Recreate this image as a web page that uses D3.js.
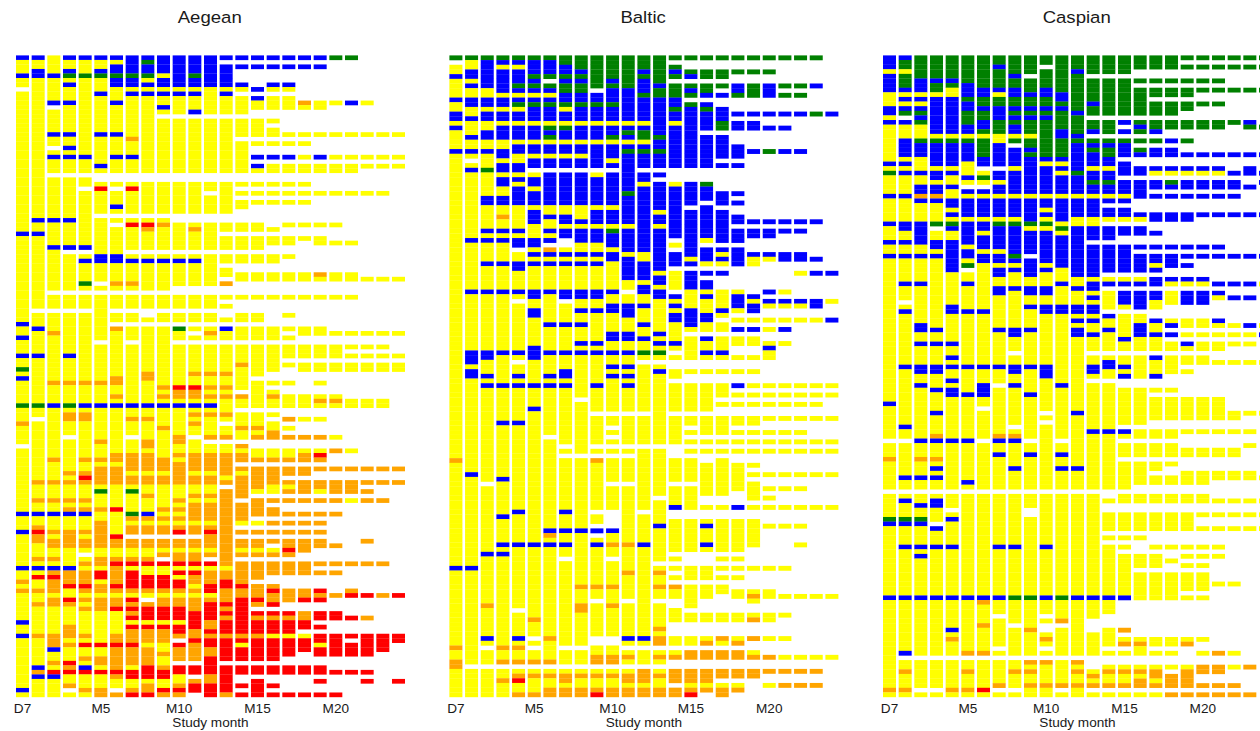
<!DOCTYPE html>
<html>
<head>
<meta charset="utf-8">
<script src="https://cdn.jsdelivr.net/npm/d3@7"></script>
<style>
  html, body { margin: 0; padding: 0; background: #fff; }
  svg { display: block; }
  text { font-family: "Liberation Sans", Arial, sans-serif; fill: #1a1a1a; }
</style>
</head>
<body>
<svg id="chart" width="1260" height="731"></svg>
<script>
const studyMonths = ["D7","M1","M2","M3","M4","M5","M6","M7","M8","M9","M10","M11","M12","M13","M14","M15","M16","M17","M18","M19","M20","M21","M22","M23","M24"];
const tickLabels = ["D7","M5","M10","M15","M20"];
const stateCodes = ["y","o","r","b","g"];
const stateColors = ["#ffff00","#ffa500","#ff0000","#0000ff","#008000"];

// one string per study month: code + subject row (or row range), painted in order, _ = no visit
const aegeanColumns = [
  "y0-141 b0 b4 _7 b39 b59 b62 b66 g69 b71 g77 o81 _86 b101 b105 b113 o116 o118 b125 b128 b140",
  "y0-141 b0 b3-4 b36 b39 _56 b60 b66 g77 _80 o94 o98 b101 o104 r105 o106-107 o111 b113 r115 o118 o121 o128 b135 o136 b137",
  "y0-141 b4 b10 _11 b17 _20 b22 _26 b36 b42 _52 _56 o61 o72 b77 o89 o94 o98 b101 o105 o107-108 o111 b113 o114 r115 o116-118 o120-121 o128-130 b131 o134 r136 b137",
  "y0-141 b0 b3 g4 b6 b10 b17 b20 b22 _26 b36 b42 _43 _52 _56 b66 o72 g77 o79-80 _84 o92 o94 o98 o100 b101 o105-108 b113 o114-116 r117 r120 o121 o126-128 o130 r134 o135 r136 o139 _140",
  "y0-141 b0 g4 b22 _26 _29 b42 _43 b45 g50 _52 _56 o72 b77 o79-80 o89 o92 r93 o94 o98 o100 b101 o105 o107-108 _110 o112 o114-116 r117 o118 o120 o122 o128 r130 o133 b135 r136 o140",
  "y0-141 b0 b3 g4 b8 b17 b24 _26-27 r29 _35 b44-45 _50 _52 _63 o72 b77 o85 o89 o91-94 g96 o100 o103-108 o111-112 r114-115 o117-118 o120-122 r130 o133-134 r136 o140-141",
  "y0-141 b0 b2-3 g4 b5-6 b10 b17 b22 _26-27 _29 b33 _35 _37 b44-45 o50 _52 _56 _59 o60 o71-72 o75 b77 o88-89 o91-94 r100 r106 o107-108 o111 r112 o113-116 r117 o118 o120-121 r122 o128-129 r130 o131-135 r136 o137 _140 o141",
  "y0-141 b0-3 g4 b5-6 b8 o18 b22 _26-27 r29 _35 r37 _43 b45 o50 _52 _56 _59 _63 b77 o80 _84 o88-91 o93-94 g96 g101 o102 o104-105 _106 o107-108 o111 r112 r114-117 o118 r120 o121 r122 o123 r124 r126 o127-129 r130 o131-134 r136-137 o140 r141",
  "y0-141 b0 g1 b2-3 g4 b6 b8 _26-27 _35 r37 o38 _43 b45 _52 _56-57 _59 o70-71 b77 o80 o85-86 o88-91 o93-94 o97 b101 o102 o104-105 _106 o107-108 o111 r112 r115-117 o118 _120 o121 r122-124 r126 o127-129 o131-134 r135-137 o139-140 r141",
  "y0-141 b0-3 b5-6 b8 b11 _13 _26-27 _35 o37 _43 b45 _52 _56 _59 o73 o75 b77 o82 o89-91 o93-94 o100 o102 o104-105 _106 o107-108 o110 _111 r112 r115-117 o118 o120-121 r122-124 r126 o127-129 o132 o135 r136-137 r140 o141",
  "y0-141 b0-6 b8 _13 _26-27 _35-36 _43 b45 _51-52 _56 _59 g60 _63 r73 o74-75 b77 o84-85 o88 o90-94 o98 o100 o102 o104 r105 _106 o107-108 o110-111 r112 r114 r116-117 o118 o120-121 r122-124 r126-127 o128 _129 r130 o131-133 _134 r135-136 o139 r140 o141",
  "y0-141 b0-3 g4 b5-6 b8 b12 _13 _26-27 _35-36 o38 _43 b45 _51-52 _56 _59 _61 _63 o70 r73 o74-75 b77 o79 o81 _84 o88-91 o93-94 o97 o99-102 o104-105 _106 o107-108 o110-111 r112 r114 o115-116 o118 o120-122 r123-126 o127-128 r129 o130-133 _134 r135-136 _137 o138 r139-140 _141",
  "y0-141 b0-6 _13 _26-27 _30 _35-36 _43 _51-52 _56 _59 o61 _63 o70 o73 o75 b77 o79 o84 _85 o88-91 o93-94 o97 o99-102 o104 r105 o106-108 o110 _111 r112 o114-116 r117-118 o120 r121-124 o125-126 r127 o128 r129-130 o131-132 r133-136 o137-138 r139-141",
  "y0-141 b0 _1 b2-6 b8 _13 _26-27 _35-36 _39 _43 _46 _49 o50 _51-52 _54 _56-57 _59 b60 _63 o70 o73 o75 o79 _81 o84 _85 o88-92 o94 _95 o96-112 o114-115 r116-117 o118-120 r121 o122 r123 o124 r125-127 o128 r129-133 _134 r135-140 o141",
  "b0 b2 b6 y7 y9-12 y14-17 y19-25 y28 y30 y32-33 y37-38 y40-42 y44-45 y48-49 y53 y57-58 y60-62 y64-67 o68 y69-73 o75 y76-77 y79-81 o82 y83-84 o86 y87 o88-89 o91 y92 o93-97 o99-102 y103 o105 o107-108 y109 o110 o112-116 r117 o118-119 r120-127 o128 r129 y130 r131-133 r135-136 r139 r141",
  "b0 b2 b7 b9 y10-11 y14-17 y19 b22 b24 y25 y28 y30 y32 y37-38 y40-42 y44-45 y48-49 y53 y57-58 y60-62 y64-70 y72-77 y79-81 o82 y83 o84 y87-88 o89 o91-95 y96 o98-101 y103 o105 o107-108 y109 o110 o112-115 o117-119 r120 o121 r123 o124 r125-127 o128 r129-133 r135-136 r138-141",
  "b0 b2 b6 y7 y9-11 y14 y16-17 y19 b22 y24-25 y28 y30 y32 y38 y40-41 y44-45 y48-49 y53 y60-62 y64-69 y72 y74 o75 y76-77 y79 y81-82 o83-84 y87-88 o89 o91-94 y95-96 o98 o100-101 o103 o105 o107 y109 o110 o112-114 o117 r118 o119-120 r121 r123 o124 r125-127 y128 r129-133 r135-136 r139 r141",
  "b0 b2 b6 y7 y9-11 y17 y19 b22 y24-25 y28 y30 y32 y37 y40-41 y44 y48-49 y53 y57 y60 y62 y64-66 y68 y72 y75-77 o80 y82 o84 y87-88 o89 o91-92 o94 y95 o96 o98 o101 o103 o105 o107-108 r109 o110 o112-114 o118-120 r123 o124 r125-127 y128 r129-132 r135-136 r141",
  "b0 b2 o10 y11 y17 y19 y22 y24-25 y28 y30 y32 y37 y40 y48-49 y53 y60-61 y64-66 y68-69 y75-77 y80 o84 y87 o88-89 o91-92 o94-96 o98 o101 o103 o105 o107-109 o112-114 o118-119 r120 o123-124 r125-126 y128 r129-131 r135-136 r141",
  "b0 b2 y10-11 y17 b22 y24-25 y30 y37 y40-41 o48 y49 y53 y60-61 y64-66 y68-69 y72 y75 o76 y77 y80 o84 y87 r88 o89 o91 o94-95 y96 o98 o101 o103 o105 o107-108 o112 o114 r118 o119 r120 r123-124 r126 r128-129 y130 r131-132 r135-136 r138 r141",
  "g0 y10 y17 y22 y24-25 y30 y37 y41 y48-49 y53 y61 y64-66 y68-69 y75 o76 y77 y84 o87 o91 o94-96 o98 o101 o108 o112 o114 o119 r123-124 r128-132 r136 r141",
  "g0 b10 y17 y22 y24-25 y30 y41 y48-49 y53 y61 y64 y66 y68-69 y76-77 y87 o91 o94-96 y98 o112 o118 r119 r124 r128 r130-132 r136",
  "y10 y17 y22 y24 y30 y49 y61 y64 y66 y68-69 y76-77 o91 o94 o96 o98 o107 o112 r119 o124 r128-132 r136 r138",
  "y17 y22 y24 y30 y49 y61 y64 y66 y68-69 y76-77 o91 o94 o98 o112 o119 r128-131",
  "y17 y22 y24 y49 y61 y66 y68-69 o91 o94 r119 r128-129 r138"
];

const balticColumns = [
  "y0-136 g0 _1 b4 b9 b12-13 b15 b20 o86 b109 o126 o129-130",
  "y0-136 g0 b3-4 b6 b9-10 b13 b17 b20 _22 b24 b39 b50 b63-65 b67-68 b89 b109 _130",
  "y0-136 g0 b1-6 b9-10 b12-13 b16-17 b20 g24 b30-31 b37 b39 b44 b50 b63-64 b68 b70 _91 b106 o117 b124 _126 _130",
  "y0-136 g0 b1 b3-7 b9-10 b12-13 b15-17 b20-21 b23-24 b26-27 b30-31 o34 b37 b39 b44 b50 b63 b70 b78 b90 b98 b104 b106 o126 o129 _130 o133",
  "y0-136 g0 b1 b3-5 g6 b7 b9 g10 b12-13 b15-17 b19-20 b23-24 b26 b28-31 b37 b39-40 _41 b44-45 b50 _52 b63 _65 b68 b70 b78 b97 b104 _118 b124 o126 o129 _130 o132 r133 o136",
  "y0-136 g0 b1-3 g4 b5 g6 b7 b9 g10 b11-13 b15-17 b19-20 b22-23 _24 b26-27 b29-31 b33-35 b39-40 b42 b44 b50-51 b54-55 b62-64 b70 b75 b104 o120 _124 _126 o129 _130 o132 o136",
  "y0-136 g0 b1-3 g4 _5 g6 b7 b9 g10 b11-13 g15 b16 g17 b19-20 b22-23 _24 b25-31 b34 b37 b39 _40 o41 b42 b44 b50 b57 b63 b68 b70 _81 b101 o102 b104 o124 o129 _130 o132 o135-136",
  "y0-136 g0-1 b2-3 g4 b5 g6-7 b8-9 g10 b12-13 g15 b16-17 b19-20 b22-23 _24 b25-31 b34-35 b37-38 _39-40 b42 b44 b50-51 _52 b57 b63 b67-68 b70 _83 _85 b97 b101 b104 _107 _126 _130 o132-133 o135-136",
  "y0-136 g0-2 b3 g4 b5 g6-7 b8-9 g10 b11-13 b15-17 b19-20 b22-23 _24 b25-31 b35 b37-39 b42 b44 b50-51 b54 b57 b61 b63 _73 _85 b101 o113 o117-118 _126 _130 o132 o135-136",
  "y0-136 g0-6 _7 b8-9 g10 b11-13 b15-17 b19-23 _24 b26-31 b33-35 b37-39 b42 b44 b50-51 b54 b61 b63 b70 _76 _83 _85 o86 _97 _100 b101 _102 b104 o113 _116 _124-125 o128-129 _130 o132 o135 r136",
  "y0-136 g0-4 b5 g6 b7-9 g10 b11-13 b15-16 g17 b19-21 b23 _24 b25-31 b33-35 g37 b38-40 b42-43 b50 b53-54 b59-60 b63 b66 b68 _76 _79 _81 _83 _85 _91 _97-100 b101 o104 _107 o113 o117 _124-125 o128-129 _130 o132 o135-136",
  "y0-136 g0-6 b7-13 b15 g16 b17 b19 g20 b21-28 g29 b30-35 b37-41 b43-47 _50 b53-55 b59-60 b63 b66 b68 b70 _76 _83 _85 _91 o104 o110 _116 b124 _126 o128 _130 o132-133 o135-136",
  "y0-136 g0-2 b3 g4 b5-7 g8 b9-13 b15 g16-17 b19 g20 b21-23 _24 b25-26 b28-41 b44-47 b49-50 b53 b57 b60 g63 _65 _76 _83 _97 b104 b124 _126 _130 o131-133 o135-136",
  "y0-136 g0-5 b6 g7-8 b9-16 g17 b18-19 g20 b21-23 _24 b25 _26 b27-32 b34-35 b37-45 b47-48 b50-51 b59 b61 g63 _65 b67 _83 _94 b100 _108 o110 o113 _116 o122 o124-125 _126 o128 _130 o132 o135-136",
  "g0 g2 b3 g4 g6-8 b9-10 g11 b12-13 y14 b15-23 y27 b28-38 y40 b42-44 y46-49 b51 y52 b53 y54 b55-56 y57-60 b61 y62 y64 y67-68 y70-75 y77-82 y86-90 y92-95 b96 y99-105 y107 y109 y111 o113 y114-115 y118-120 y124-125 y127 o128 o131-133 o135-136",
  "g0 g3 b4 g6 b7 g8 g10 b11-23 b27-31 b33-42 y43 b44 b46-49 y50-53 b54-57 y58 y60-64 y67 y70-75 y77-78 y80 y82 y84 y86-90 y92-96 y99-105 y109-111 y113-117 y119-120 y124-125 o127-128 o131-133 y134 o135 r136",
  "g0 g3-4 g6-7 b8 b10 g11 b12-15 b17-23 g27 b28-30 b32-38 y39 b41-43 y44 b46 b48-49 y50 b51 y52-54 b55-56 y57-58 b60 y61-62 b63 y64 y67 y70-75 y77-80 y82 y84 y87-93 y96 y99 b100 y101-103 b104 y105 y109-111 y113-115 y119-120 y124 o125 o127-128 o131-133 y134 o135",
  "g0 g3-4 g6 b8 b11-13 g14-15 b17-21 b23 b29-31 b33-39 b41 y42 b43 y44 b46 y50-53 b54 y55 y57-58 y60-62 b63 y64 y67 y70-72 y74 y77-80 y82 y84 y86-93 y96 y99-105 y107 y109 y111 y113-114 y119-120 o124 y125 o127-128 o131-132 y134 o135-136",
  "g0 g3 b6-7 g8 b12 b14-15 b19-21 b23 b29 b31 b34-35 b37-39 b41-44 y50 b51-53 y54 y56 b58 y60-61 y64 y67 b70 y72 y74 y77-78 y80 y82 y84 y87-92 b96 y99-105 y107 y109 y111 y114-115 y119-120 y124 o125 o127-128 o131-132 y134 o135",
  "g0 g3 g6-8 b12 b14-15 b20 b35 b37-38 b42 y43-44 b51 y52 b53-54 y56 b58 y60-61 y64 y67 y70 y72 y74 y77-78 y80 y82 y84 y87 y89 y91-94 y96 y99-104 y109 y114 o115 y116 y119 o120 o124 y127 o128 o131-132",
  "g0 g3 b6-8 b12 b15 g20 b35 b37-38 b42 y43 b50 b52 y53 y56 y58 y61 b62 y63-64 y70 y72 y74 y77 y80 y82 y84 y89 y92 y94 y96 y100 y109 y114-115 y119-120 y124 o128 o131 y134",
  "g0 g6 g8 b12 b15 b20 b35 b37 b42-43 y50 b52 y53 y56 b58 y61 y70 y72 y74 y77 y80 y82 y84 y89 y92 y96 y100 y109 y115 y119 y124 y128 o131 o134",
  "g0 g6 g8 b12 b20 b35 b37 b42-43 y46 b52 y53 y56 y70 y72 y74 y77 y80 y82 y84 y89 y92 y96 y100 y104 y115 y128 o131 o134",
  "g0 b6 g12 b35 b43 b46 b52-53 y56 y70 y72 y74 y77 y82 y84 y89 y96 y115 y128 o131 o134",
  "b12 b46 y52 b56 y70 y72 y77 y82 y84 y89 y96 y115 y128"
];

const caspianColumns = [
  "y0-138 b0-2 b4-7 b11-12 b14 b23 g25 b30 b36 b40 b43 b75 _83 o87 _94 g100 b101 b117 o137",
  "y0-138 b0 g1-2 g4-6 b7 b9 b11 g12 _13 b14 b18-21 b23 b25 b30 b36-37 b40 b43 b49 _53 b55 b67 b80 _83 b91 _94 b96 g100 b101 b106 b117 b129 _130 o133 o137",
  "y0-138 g0-4 b5-7 b9 b11 g12 b13 g14 g18 b19-21 b25 b28-29 o30 b31 b36-40 b43 b49 b58-59 b62 b67-68 b71 b83 o87 b91 _94 b97 g100 b101 b106 b108 b117 _130 _137",
  "y0-138 g0-4 b5 g6-7 b9-16 g18 b19-23 b25-26 b28-29 o30 b31 g36 _37 b40-41 b43 b59 b62 b67-68 b72 b77 o82 b83 o87 b89 b91 _94 b96-97 _101 b102 b106 b117 _130 _137",
  "y0-138 g0-4 b5 g6 b9-16 g18 b19-23 b25 b28 b31-32 b34 g36 b37 b40-46 b54-55 b62 b65 b67 b70 b72-73 b83 _94 _98 b100 b106 b117 b124 o126 _130 o137",
  "y0-138 g0-5 b6-8 g9 b10-11 g12-14 b15-16 g18 b19-22 b26 _28 b29 b31-34 b36-40 b42-43 g45 _46 b49 b55 b67 b73 b83 b92 _94 b117 o129 _130 o133 o137",
  "y0-138 g0-6 b7-8 g9-10 b11 g12-13 b14-15 g16 g18-21 b22-23 _24 g26 _28 b29 b31-34 b36-37 b39-41 b43-44 b55 b67 b71-73 _76 _83 _94 b117 o118 o123 o129 _130 r137",
  "y0-138 g0-1 b2 g3-6 b7 g9-10 b11-13 g14-16 b19-23 _24 b25-26 b28-29 b31-34 g36 b37-41 b43-44 b46-47 b50-51 b59 b67 _71 o82 b83 b86 _94 b106 b117 _121 _128 _130 o136 _137",
  "y0-138 g0-3 b4 g5-6 b7-8 g9-10 b11 g12 b13 g14 b15-16 g18 _19 b20-23 b25-29 b31-34 g36 b37-42 g43 b44 b46 b50 b59-60 _64 b67-68 b71 _80 o82 b83 b89 _94 b106 g117 _123 _130 o133 _137",
  "y0-138 g0-3 _4 g5-7 b8 g9-10 b11 g12 b13 g14-16 g18-19 b20 g21 b22-29 b31-35 g36 b38-42 _43 b44-47 b50-51 b54 b59 b67 b73 _83 b86 _94 _98-99 g117 o124 _130 o131 o133 o136",
  "y0-138 g0-1 _2 g3-6 b7-8 g9-10 b11 g12 b13 g14-21 b22 b24-29 b31-32 b34 g36 b38-44 b46 b50-51 b54-55 b67-69 _77 _79 _94 b106 b117 _121 _123-124 o126 _128 _130 o131 o136",
  "y0-138 g0-7 b8-9 g10 b11 g12-15 b16-17 g18-21 b22 b24 b26-29 b31-35 g37 b39-45 b49 b54-55 b71 _83 b86 b89 _94 g117 o122 _123 _130 o136 _137",
  "y0-138 g0-2 b3 g4-11 b12 g13-16 b17 g18 b19-24 g25 b26-29 b31-34 b37-47 b50 b54-55 b57 b59-60 b77 b89 _94 b117 _130 o131 o133 o136",
  "y0-138 g0-3 _4 g5-9 b10 g11-12 _13 g14-15 b16 _17 g18 b19 g20 b21-23 b25-26 g27 b28-29 b31-34 b37-39 _40 b41-47 b49-50 b52 b54-55 b57 b60 _64 b67-68 _70 b81 _94 b117 _122-124 _130-132 o134 o136 _137",
  "y0-138 g0-3 _4 g5-12 _13 g14-16 _17 g18 b19 g20-21 b22-23 b25-26 g27 b28-29 b31 _32 b33-34 _36 b37-39 _40 b41-46 _47 b49 _50 _55 b56 b59 _64 b66-67 _70 b81 _94-95 _97-98 _103 _105 b117 _121-123 _128 _130-131 o133 o136 _137",
  "g0-3 g5-12 b14 b16 g18 b19-21 b23-25 b27-29 y30 b31 b33-34 y35 b37-38 b41-46 y48 b49 b51-53 y54 y56-60 b61 y62-63 y65-66 b67 y68 b69 y72-79 b81 y82 y84-86 y88-93 y95-96 y99-102 y104 y106 y108-116 b117 o124 y126 o127 y129 y132 o133 y134-135 o136 y138",
  "g0-2 g5 g7-12 g14 b15 g16 g18 g20 b21 b24-25 b27-30 b34 y35 b37-38 b41 b43-46 y48 b49 b51-54 y56-57 b58-60 y61-63 y65-69 y72-79 y81-82 y84-86 y88-92 y95-96 y99-102 y104 y108-110 y112-117 y126 o127 y128-129 y132 o133 y134 o135-136 y138",
  "g0-2 g5 g7-8 g10-12 g14-15 b16 g18 b20-21 b24 y25 b27-28 b30 b34-35 b38 b41 b43-44 y45 b46 b48-49 b51-52 y53-54 b57 y58-59 b60 y61-63 b65 y66-68 b69 y72 y74-78 y81-82 y84-86 y88-89 y91-92 y95-96 y99-102 y106 y108-110 y112-117 y126-127 y129 y132 o133-134 y135 o136 y138",
  "g0-2 g5 g7-8 g10-12 g14-15 b18 b20-21 b24 y25 g27 b28 b30 b34-35 b41 b43-45 b48 y49 y51-53 y57 b58 b60 y62-63 y65-68 y72 y74-78 y81-82 y84-86 y88 y91-92 y95-96 y99-102 y106 y109 y112-117 y126-127 y129 y132 o134-136 o138",
  "g0 g2 g5 g7-8 g10-11 g14-15 g18 b21 b24 y25 b27-28 b30 b34-35 b41 b43 b45 b48 y49 b51-53 y57-58 y60 b62 y63 y65-66 y68 y74-78 y81 y85-86 y90-92 y95-96 y99-102 y106 y108 y110 y112-115 y117 y126 o127 y132 o133-136 o138",
  "g0 g2 g5 g7 g10 g14-15 b21 b24 y25 b27-28 b30 b34 b41 b43 b48 y49 b51-53 y57-58 y60 y62-63 y65-66 y74-78 y81 y85-86 y90-92 y95-96 y99 y102 y106 y108 y110 y112-115 y117 y126 y129 o132-133 o136 o138",
  "g0 g2 g5 g7 g10 g14-15 b21 b24 y25 b27-28 b30 b34 b41 b43 b49 b51 y52 b57 y58 y60 y62-63 y66 y74-78 y81 y85-86 y90-91 y96 y99 y102 y106 y108 y114 o129 o132-133 o136 o138",
  "g0 g2 g7 g14 b21 b25 b27-28 b30 b34 b43 b49 b52 y58 y60 y62 y66 y77-78 y81 y85-86 y90-91 y96 y99 y102 y114 y129 y132 o136 o138",
  "g0 g2 g7 b14 g15 b21 b24-25 b28 b34 b43 b49 b52 b58 y60 y62 y66 y77 y81 y84 y90-91 y96 y99 y102 o132 o138",
  "g0 g2 g7 g15 b21 b25 b27 b34 b43 y49 y58 b60 y66 y77 y91 y96 y99 y102"
];

const panelTitles = ["Aegean","Baltic","Caspian"];
const panelColumns = [aegeanColumns, balticColumns, caspianColumns];
const panelRowCounts = [142, 137, 139];
const panelLefts = [16, 449.4, 883];

const plotTop = 55.4;
const plotHeight = 641.6;
const plotWidth = 389;

const color = d3.scaleOrdinal().domain(stateCodes).range(stateColors);

function parseColumn(spec, month) {
    const rows = new Map();
    spec.split(" ").forEach(token => {
        const code = token[0];
        const [from, to] = token.slice(1).split("-").map(Number);
        for (let r = from; r <= (to === undefined ? from : to); r++) {
            if (code === "_") rows.delete(r);
            else rows.set(r, code);
        }
    });
    return Array.from(rows, ([row, state]) => ({ month, row, state }));
}

const svg = d3.select("#chart");

panelTitles.forEach((title, p) => {
    const x = d3.scaleBand()
        .domain(studyMonths)
        .range([0, plotWidth])
        .paddingInner(0.17);
    const y = d3.scaleBand()
        .domain(d3.range(panelRowCounts[p]))
        .range([0, plotHeight]);

    const cells = panelColumns[p].flatMap((spec, i) => parseColumn(spec, studyMonths[i]));

    const panel = svg.append("g")
        .attr("transform", `translate(${panelLefts[p]},${plotTop})`);

    panel.selectAll("rect")
        .data(cells)
        .enter()
        .append("rect")
        .attr("x", d => x(d.month))
        .attr("y", d => y(d.row))
        .attr("width", x.bandwidth())
        .attr("height", y.bandwidth() + 0.2)
        .attr("fill", d => color(d.state));

    // Month axis
    const axis = panel.append("g")
        .attr("transform", `translate(0,${plotHeight})`)
        .call(d3.axisBottom(x).tickValues(tickLabels).tickSize(0).tickPadding(6));
    axis.select(".domain").remove();
    axis.selectAll("text")
        .attr("font-size", 13.6)
        .attr("font-family", "Liberation Sans")
        .style("fill", "#1a1a1a");

    panel.append("text")
        .attr("x", plotWidth / 2)
        .attr("y", plotHeight + 30.5)
        .attr("text-anchor", "middle")
        .attr("font-size", 13.6)
        .text("Study month");

    // titles in the original are a little wider than the font
    panel.append("text")
        .attr("transform", `translate(${plotWidth / 2 - 0.8},-32.1) scale(1.14,1)`)
        .attr("text-anchor", "middle")
        .attr("font-size", 16.3)
        .text(title);
});
</script>
</body>
</html>
